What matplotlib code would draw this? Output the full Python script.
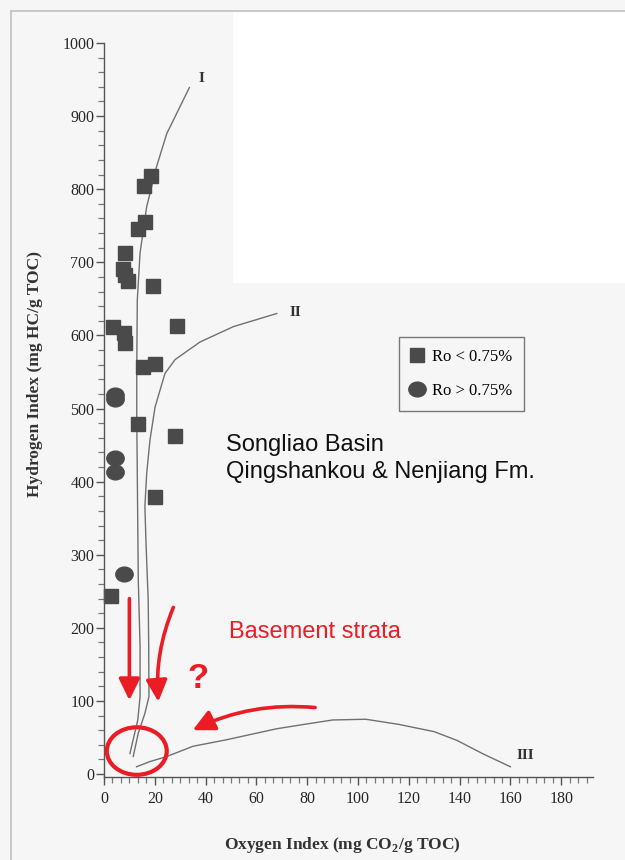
import numpy as np
import matplotlib
matplotlib.use("Agg")
import matplotlib.pyplot as plt
from matplotlib.markers import MarkerStyle
from matplotlib.patches import Ellipse, Rectangle
from matplotlib.lines import Line2D
from matplotlib.ticker import MultipleLocator
from matplotlib.transforms import Affine2D

plt.rcParams['font.family'] = ['Liberation Serif', 'DejaVu Serif']
plt.rcParams['mathtext.fontset'] = 'custom'
plt.rcParams['mathtext.rm'] = 'Liberation Serif:bold'

# samples, Ro < 0.75 %
sq_oi = [18.6, 15.9, 16.1, 13.2, 8.3, 7.4, 8.3, 9.6, 19.4, 3.4, 7.7, 8.4, 28.6,
         15.5, 20.1, 13.5, 28.0, 20.1, 2.6]
sq_hi = [818, 804, 755, 745, 713, 691, 683, 675, 667, 612, 603, 590, 613,
         557, 561, 479, 462, 379, 243]

# samples, Ro > 0.75 %
ci_oi = [4.3, 4.3, 4.3, 4.5, 8.0]
ci_hi = [519, 513, 432, 413, 273]

# kerogen type boundaries
type1_oi = [10.2, 13.3, 14.2, 14.2, 13.5, 12.9, 12.9, 13.1, 14.2, 16.8, 20.7, 24.7, 33.6]
type1_hi = [28, 74, 106, 174, 265, 484, 557, 648, 713, 776, 831, 876, 939]
type2_oi = [11.5, 13.5, 16.1, 17.7, 17.6, 17.4, 17.0, 16.5, 16.1, 16.8, 18.1, 20.1,
            24.0, 28.0, 37.8, 50.9, 68.0]
type2_hi = [24, 56, 83, 106, 174, 238, 274, 320, 366, 411, 457, 502,
            548, 567, 591, 612, 630]
type3_oi = [12.8, 18.0, 24.7, 35.0, 48.3, 68.0, 77.0, 90.0, 103.0, 116.0, 130.0,
            139.0, 149.0, 160.0]
type3_hi = [10, 17, 24, 38, 47, 62, 67, 74, 75, 68, 58, 46, 28, 10]

x_ticks = list(range(0, 181, 20))
y_ticks = list(range(0, 1001, 100))

red = '#ec1c24'
mark = '#4a4a4a'
line = '#707070'

fig = plt.figure(figsize=(6.25, 8.6), dpi=100, facecolor='#f6f6f6')

# page background: white patch and scanned page border
fig.patches.append(Rectangle((233 / 625, 1 - 283 / 860), 1, 272 / 860,
                             transform=fig.transFigure, facecolor='white',
                             edgecolor='none', zorder=-5))
fig.add_artist(Line2D([11 / 625, 1], [1 - 11 / 860] * 2, transform=fig.transFigure,
                      color='#c4c4c4', lw=1.3))
fig.add_artist(Line2D([11 / 625] * 2, [0, 1 - 11 / 860], transform=fig.transFigure,
                      color='#c4c4c4', lw=1.3))

ax = fig.add_axes([104 / 625, 83 / 860, 489 / 625, 734 / 860])
ax.patch.set_alpha(0)
ax.set_xlim(0, 192.5)
ax.set_ylim(-4, 1000)
for side in ('top', 'right'):
    ax.spines[side].set_visible(False)
for side in ('left', 'bottom'):
    ax.spines[side].set_color('#555555')
    ax.spines[side].set_linewidth(1.0)

ax.set_xticks(x_ticks)
ax.set_yticks(y_ticks)
ax.xaxis.set_minor_locator(MultipleLocator(20 / 6))
ax.yaxis.set_minor_locator(MultipleLocator(20))
ax.tick_params(which='major', length=6, width=1, color='#555555',
               labelsize=11.5, labelcolor='#262626')
ax.tick_params(which='minor', length=4, width=0.9, color='#777777')
ax.tick_params(axis='y', which='major', pad=1)
ax.tick_params(axis='x', which='major', pad=4)

ax.plot(type1_oi, type1_hi, color=line, lw=1.0)
ax.plot(type2_oi, type2_hi, color=line, lw=1.0)
ax.plot(type3_oi, type3_hi, color=line, lw=1.0)
ax.text(38.5, 951, 'I', fontsize=11, fontweight='bold', color='#333333',
        ha='center', va='center')
ax.text(75.2, 632, 'II', fontsize=11, fontweight='bold', color='#333333',
        ha='center', va='center')
ax.text(166, 25, 'III', fontsize=11, fontweight='bold', color='#333333',
        ha='center', va='center')

oval = MarkerStyle('o', transform=Affine2D().scale(1.0, 0.85))
ax.plot(sq_oi, sq_hi, 's', ms=10, color=mark, mec=mark, ls='none',
        label='Ro < 0.75%', clip_on=False)
ax.plot(ci_oi, ci_hi, marker=oval, ms=12.5, color=mark, mec=mark, ls='none',
        label='Ro > 0.75%', clip_on=False)

leg = ax.legend(loc='upper left', bbox_to_anchor=(399 / 625, 1 - 337 / 860),
                bbox_transform=fig.transFigure, prop={'size': 12},
                fancybox=False, edgecolor='#777777', facecolor='#f6f6f6',
                framealpha=1, handlelength=0.8, handletextpad=0.5,
                labelspacing=1.1, borderpad=0.7, borderaxespad=0)
leg.get_frame().set_linewidth(1.0)

fig.text(35 / 625, 1 - 374 / 860, 'Hydrogen Index (mg HC/g TOC)', rotation=90,
         fontsize=12.5, fontweight='bold', color='#333333', ha='center', va='center')
fig.text(342 / 625, 1 - 845 / 860, r'Oxygen Index (mg CO$_\mathregular{2}$/g TOC)',
         fontsize=12.5, fontweight='bold', color='#333333', ha='center', va='center')

# overlay notes
sans = ['Liberation Sans', 'DejaVu Sans']
fig.text(226 / 625, 1 - 445 / 860, 'Songliao Basin', family=sans, fontsize=17,
         color='#111111', ha='left', va='center')
fig.text(226 / 625, 1 - 472 / 860, 'Qingshankou & Nenjiang Fm.', family=sans,
         fontsize=17, color='#111111', ha='left', va='center')
fig.text(229 / 625, 1 - 632 / 860, 'Basement strata', family=sans, fontsize=17,
         color=red, ha='left', va='center')
fig.text(198 / 625, 1 - 679 / 860, '?', family=sans, fontsize=25, fontweight='bold',
         color=red, ha='center', va='center')

arrow = dict(arrowstyle='-|>,head_length=0.65,head_width=0.32', mutation_scale=20,
             color=red, lw=2.6, shrinkA=0, shrinkB=0)
ax.annotate('', xy=(10.0, 101), xytext=(10.0, 240),
            arrowprops=dict(arrow, connectionstyle='arc3,rad=0'))
ax.annotate('', xy=(21.4, 99), xytext=(27.3, 228),
            arrowprops=dict(arrow, connectionstyle='arc3,rad=0.12'))
ax.annotate('', xy=(34.9, 60), xytext=(83.1, 91),
            arrowprops=dict(arrow, connectionstyle='arc3,rad=0.14'))

ax.add_patch(Ellipse((12.9, 31.5), 23.6, 65, facecolor='none', edgecolor=red,
                     lw=3.0, clip_on=False, zorder=5))

fig.savefig('out.png', dpi=100, facecolor=fig.get_facecolor())
